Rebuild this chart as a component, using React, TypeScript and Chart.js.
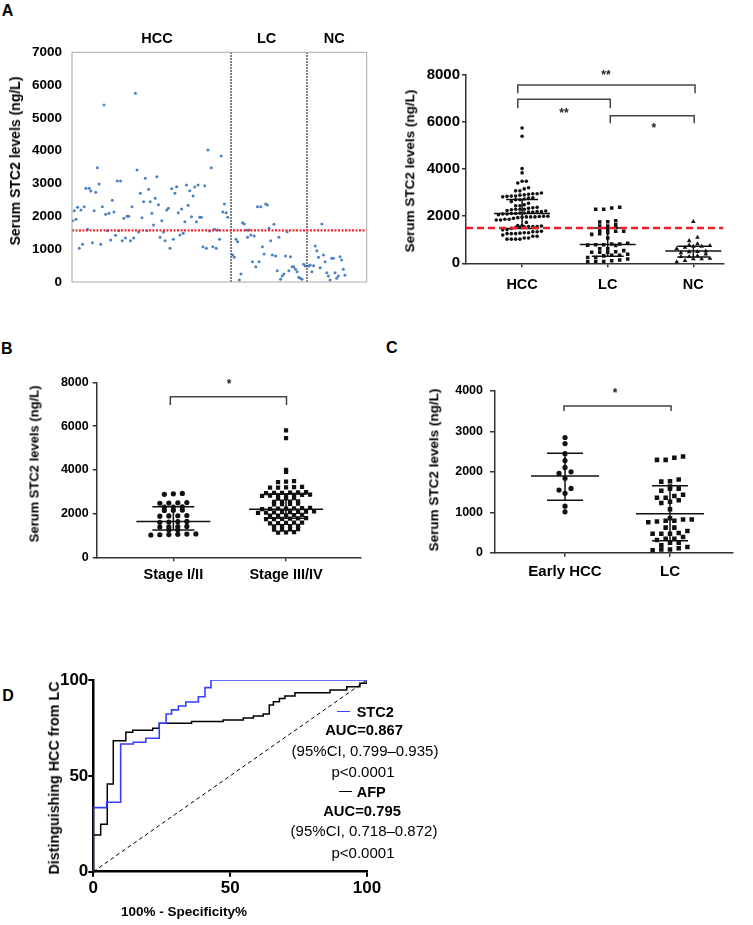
import React, { useEffect, useRef } from 'react';
import { Chart, registerables } from 'chart.js';

Chart.register(...registerables);

const FONT = '"Liberation Sans", Arial, Helvetica, sans-serif';
Chart.defaults.font.family = FONT;
Chart.defaults.color = '#000';

// ================= DATA =================
// Panel A – serum STC2 (ng/L) per sample
const groupLabelsA = ['HCC', 'LC', 'NC'];
const hccLevels = [
  1870, 2174, 1910, 2276, 1026, 2195, 1148, 2296, 2855, 1605,
  2855, 2774, 1199, 2174, 2733, 3485, 2987, 1148, 2296, 5395,
  2062, 1565, 2093, 1280, 2489, 2134, 1422, 3078, 1565, 3078,
  1260, 1940, 1341, 2001, 2001, 1260, 2296, 1341, 5750, 3414,
  1524, 2702, 1961, 2448, 3160, 1565, 2824, 2448, 2093, 1737,
  2550, 3210, 2357, 1361, 1870, 1524, 1260, 2195, 2245, 1026,
  2844, 1300, 2702, 2905, 2113, 1432, 2225, 1483, 1839, 2956,
  2337, 2784, 1991, 2621, 2895, 1839, 2956, 1971, 1971, 1077,
  2936, 1026, 4023, 1555, 3485, 1077, 1605, 1026, 1585, 1300,
  3840, 2134, 2377, 2113, 1971,
];
const lcLevels = [
  823, 752, 1300, 1229, 61, 244, 1809, 1768, 1585, 1361,
  1585, 1432, 620, 1402, 467, 2296, 620, 2296, 1077, 853,
  2377, 2347, 1636, 1260, 823, 1758, 792, 345, 1361, 81,
  183, 244, 792, 1534, 345, 772, 467, 467, 386, 315,
  142, 112, 81, 538, 488,
];
const ncLevels = [
  488, 518, 315, 498, 1097, 955, 752, 437, 1768, 823,
  620, 284, 183, 61, 721, 721, 284, 112, 183, 772,
  671, 386, 203,
];
const cutoffA1 = 1575;
const cutoffA2 = 1500;
const medianA = [2115, 795, 523];
const q1A = [1476, 298, 268];
const q3A = [2710, 1502, 723];
const sigA = ['**', '**', '*'];

// Panel B – by stage
const stageLabels = ['Stage I/II', 'Stage III/IV'];
const stage12Levels = [
  2920, 2900, 2880, 2500, 2490, 2480, 2470, 2310, 2300, 2290,
  2160, 2150, 2140, 1910, 1900, 1890, 1880, 1640, 1630, 1610,
  1600, 1410, 1400, 1390, 1380, 1260, 1250, 1070, 1060, 1050,
  1040, 1030, 1020,
];
const stage34Levels = [
  5800, 5450, 4000, 3900, 3480, 3460, 3440,
  3220, 3210, 3200, 3190, 3180,
  2980, 2970, 2960, 2950, 2940, 2930,
  2860, 2850, 2850, 2840, 2830, 2820, 2810,
  2700, 2690, 2680, 2560, 2550, 2540, 2530,
  2450, 2440, 2430, 2420,
  2260, 2250, 2240, 2230, 2220, 2210, 2200,
  2100, 2090, 2080, 2070, 2060, 2050, 2040, 2030,
  1940, 1930, 1920, 1910, 1900,
  1790, 1780, 1770, 1760, 1750, 1740,
  1590, 1580, 1570, 1560, 1550,
  1440, 1430, 1420, 1410,
  1290, 1280, 1270, 1260,
  1150, 1140, 1130,
];
const medianB = [1631, 2195];
const q1B = [1250, 1783];
const q3B = [2316, 2896];
const sigB = ['*'];

// Panel C – early HCC vs LC
const labelsC = ['Early HCC', 'LC'];
const earlyHccLevels = [2850, 2700, 2450, 2280, 2110, 2000, 1960, 1840, 1590, 1550, 1470, 1150, 1010];
const meanC = [1897, 965];
const sdLowC = [1295, 297];
const sdHighC = [2458, 1658];
const sigC = ['*'];

// Panel D – ROC (100% - specificity, sensitivity)
const stc2Fpr = [0, 0, 4.9, 10, 14.6, 19.2, 24.1, 26.6, 28.6, 31.1, 33.8, 38.4, 40.8, 43, 100];
const stc2Tpr = [0, 33.4, 36.2, 66.6, 67.5, 69.6, 77.4, 82.3, 84.4, 86.4, 88.5, 91.3, 96, 100, 100];
const afpFpr = [0, 0, 2.7, 5.1, 7.3, 11.9, 14.4, 21.7, 24.1, 35.9, 47.5, 54.8, 58.5, 62.1, 64.3, 65.8, 68, 70, 73.7, 86.5, 92.6, 97.4, 100];
const afpTpr = [0, 19.1, 24.7, 45.7, 68.3, 72.7, 73.8, 74.8, 77.4, 78.3, 79.1, 80.2, 81.2, 82.3, 87, 88.7, 90.4, 91.6, 93.4, 94.8, 96.5, 98.3, 100];
const diagonal = [0, 100];
const rocTicks = [0, 50, 100];

// ================= LAYOUT =================
type Box = { x: number; y: number; w: number; h: number };
type Area = { l: number; t: number; r: number; b: number };

const L_A1 = { box: { x: 20, y: 30, w: 360, h: 272 }, area: { l: 72, t: 52.3, r: 366.7, b: 282 }, xr: [-0.4, 178.2] };
const L_A2 = { box: { x: 395, y: 50, w: 350, h: 250 }, area: { l: 466, t: 75, r: 723.3, b: 263.3 }, xr: [0.345, 3.35] };
const L_B = { box: { x: 25, y: 355, w: 355, h: 240 }, area: { l: 96.7, t: 382.3, r: 361, b: 557.3 }, xr: [0.32, 2.665] };
const L_C = { box: { x: 420, y: 365, w: 330, h: 230 }, area: { l: 495, t: 391, r: 733, b: 552.7 }, xr: [0.333, 2.6] };
const L_D = { box: { x: 40, y: 655, w: 355, h: 250 }, area: { l: 93.3, t: 680, r: 367, b: 871.7 } };

const pxPer = (L: { area: Area; xr: number[] }) => (L.area.r - L.area.l) / (L.xr[1] - L.xr[0]);

function padding(box: Box, area: Area, xHidden = false) {
  return {
    left: 0,
    top: area.t - box.y,
    right: box.x + box.w - area.r,
    bottom: xHidden ? box.y + box.h - area.b : 0,
  };
}

// dot-plot layout: rows of close values spread sideways
function swarm(values: number[], center: number, tol: number, stepPx: number, pxPerUnit: number) {
  const order = values.map((_, i) => i).sort((a, b) => values[a] - values[b]);
  const rows: number[][] = [];
  let cur: number[] = [];
  let start = 0;
  for (const i of order) {
    if (cur.length && values[i] - start > tol) {
      rows.push(cur);
      cur = [];
    }
    if (!cur.length) start = values[i];
    cur.push(i);
  }
  if (cur.length) rows.push(cur);
  const pts: { x: number; y: number }[] = new Array(values.length);
  for (const row of rows) {
    const n = row.length;
    row.forEach((i, k) => {
      pts[i] = { x: center + ((k - (n - 1) / 2) * stepPx) / pxPerUnit, y: values[i] };
    });
  }
  return pts;
}

type Mark = any;

function marksPlugin(marks: Mark[]) {
  return {
    id: 'marks',
    afterDatasetsDraw(chart: any) {
      const { ctx, chartArea: a, scales } = chart;
      const X = (v: number) => scales.x.getPixelForValue(v);
      const Y = (v: number) => scales.y.getPixelForValue(v);
      const seg = (x1: number, y1: number, x2: number, y2: number) => {
        ctx.beginPath();
        ctx.moveTo(x1, y1);
        ctx.lineTo(x2, y2);
        ctx.stroke();
      };
      for (const m of marks) {
        ctx.save();
        ctx.setLineDash(m.dash || []);
        ctx.strokeStyle = m.color || '#000';
        ctx.fillStyle = m.color || '#000';
        ctx.lineWidth = m.width || 1;
        if (m.type === 'frame') {
          ctx.strokeRect(a.left, a.top, a.right - a.left, a.bottom - a.top);
        } else if (m.type === 'hline') {
          seg(a.left, Y(m.y), a.right, Y(m.y));
        } else if (m.type === 'vline') {
          seg(X(m.x), a.top, X(m.x), a.bottom);
        } else if (m.type === 'bracket') {
          ctx.beginPath();
          ctx.moveTo(X(m.x1), Y(m.y2));
          ctx.lineTo(X(m.x1), Y(m.y));
          ctx.lineTo(X(m.x2), Y(m.y));
          ctx.lineTo(X(m.x2), Y(m.y2));
          ctx.stroke();
        } else if (m.type === 'text') {
          ctx.font = `bold ${m.size}px ${FONT}`;
          ctx.textAlign = 'center';
          ctx.textBaseline = 'alphabetic';
          ctx.fillText(m.text, X(m.x), Y(m.y) + m.size * 0.58);
        } else if (m.type === 'bar') {
          const cx = X(m.x);
          seg(cx - m.wMid, Y(m.mid), cx + m.wMid, Y(m.mid));
          seg(cx - m.wQ, Y(m.lo), cx + m.wQ, Y(m.lo));
          seg(cx - m.wQ, Y(m.hi), cx + m.wQ, Y(m.hi));
          seg(cx, Y(m.lo), cx, Y(m.hi));
        }
        ctx.restore();
      }
    },
  };
}

function valueAxis(o: {
  min: number; max: number; step: number; size: number; width: number;
  tick: number; pad: number; border: boolean; color?: string; lw?: number;
}) {
  return {
    type: 'linear',
    min: o.min,
    max: o.max,
    ticks: {
      stepSize: o.step,
      padding: o.pad,
      color: '#000',
      font: { size: o.size, weight: 'bold', family: FONT },
      callback: (v: any) => String(v),
    },
    grid: {
      display: o.tick > 0,
      drawOnChartArea: false,
      drawTicks: o.tick > 0,
      tickLength: o.tick,
      color: o.color || '#333',
      lineWidth: o.lw || 1.5,
    },
    border: { display: o.border, color: o.color || '#333', width: o.lw || 1.5 },
    afterFit: (s: any) => {
      s.width = o.width;
    },
  };
}

function categoryAxis(o: {
  labels: string[]; xr: number[]; size: number; height: number; tick: number; pad: number; color?: string; lw?: number;
}) {
  return {
    type: 'linear',
    min: o.xr[0],
    max: o.xr[1],
    afterBuildTicks: (s: any) => {
      s.ticks = o.labels.map((_, i) => ({ value: i + 1 }));
    },
    ticks: {
      autoSkip: false,
      maxRotation: 0,
      padding: o.pad,
      color: '#000',
      font: { size: o.size, weight: 'bold', family: FONT },
      callback: (v: any) => o.labels[Math.round(v) - 1] ?? '',
    },
    grid: {
      display: true,
      drawOnChartArea: false,
      drawTicks: true,
      tickLength: o.tick,
      color: o.color || '#333',
      lineWidth: o.lw || 1.5,
    },
    border: { display: true, color: o.color || '#333', width: o.lw || 1.5 },
    afterFit: (s: any) => {
      s.height = o.height;
    },
  };
}

const baseOptions = {
  responsive: false,
  maintainAspectRatio: false,
  animation: false,
  events: [],
  plugins: { legend: { display: false }, tooltip: { enabled: false } },
};

// ================= CHART CONFIGS =================
function configA1() {
  const L = L_A1;
  const sep1 = hccLevels.length + 1;
  const sep2 = hccLevels.length + lcLevels.length + 2;
  const pts = [
    ...hccLevels.map((y, i) => ({ x: i, y })),
    ...lcLevels.map((y, i) => ({ x: hccLevels.length + 2 + i, y })),
    ...ncLevels.map((y, i) => ({ x: hccLevels.length + lcLevels.length + 3 + i, y })),
  ];
  const marks: Mark[] = [
    { type: 'vline', x: sep1, color: '#222', width: 1.5, dash: [1.5, 1.5] },
    { type: 'vline', x: sep2, color: '#222', width: 1.5, dash: [1.5, 1.5] },
    { type: 'hline', y: cutoffA1, color: '#f0282d', width: 2.2, dash: [2, 1.5] },
    { type: 'frame', color: '#a8a8a8', width: 1 },
  ];
  return {
    type: 'scatter',
    data: {
      datasets: [
        {
          label: 'STC2',
          data: pts,
          pointStyle: 'circle',
          pointRadius: 1.5,
          pointBorderWidth: 0,
          pointBackgroundColor: '#4a82c4',
          backgroundColor: '#4a82c4',
        },
      ],
    },
    options: {
      ...baseOptions,
      layout: { padding: padding(L.box, L.area, true) },
      scales: {
        x: { type: 'linear', display: false, min: L.xr[0], max: L.xr[1] },
        y: valueAxis({ min: 0, max: 7000, step: 1000, size: 13.5, width: L.area.l - L.box.x, tick: 0, pad: 10, border: false }),
      },
    },
    plugins: [marksPlugin(marks)],
  };
}

function configA2() {
  const L = L_A2;
  const px = pxPer(L);
  const marks: Mark[] = [
    ...medianA.map((m, i) => ({ type: 'bar', x: i + 1, mid: m, lo: q1A[i], hi: q3A[i], wMid: 28, wQ: 16, color: '#111', width: 1.5 })),
    { type: 'bracket', x1: 0.95, x2: 3.02, y: 7575, y2: 7220, color: '#444', width: 1.5 },
    { type: 'bracket', x1: 0.95, x2: 2.03, y: 6965, y2: 6585, color: '#444', width: 1.5 },
    { type: 'bracket', x1: 2.03, x2: 3.01, y: 6270, y2: 5946, color: '#444', width: 1.5 },
    { type: 'text', x: 1.98, y: 8140, text: sigA[0], size: 12, color: '#222' },
    { type: 'text', x: 1.49, y: 6513, text: sigA[1], size: 12, color: '#222' },
    { type: 'text', x: 2.54, y: 5876, text: sigA[2], size: 12, color: '#222' },
    { type: 'hline', y: cutoffA2, color: '#ee2229', width: 2.5, dash: [7, 4] },
  ];
  const pt = (color: string) => ({ pointBorderWidth: 0, pointBackgroundColor: color, backgroundColor: color });
  return {
    type: 'scatter',
    data: {
      datasets: [
        { label: groupLabelsA[0], data: swarm(hccLevels, 1, 170, 4.3, px), pointStyle: 'circle', pointRadius: 1.8, ...pt('#111') },
        { label: groupLabelsA[1], data: swarm(lcLevels, 2, 150, 8, px), pointStyle: 'rect', pointRadius: 2.5, ...pt('#111') },
        { label: groupLabelsA[2], data: swarm(ncLevels, 3, 150, 8.3, px), pointStyle: 'triangle', pointRadius: 2.7, ...pt('#111') },
      ],
    },
    options: {
      ...baseOptions,
      layout: { padding: padding(L.box, L.area) },
      scales: {
        x: categoryAxis({ labels: groupLabelsA, xr: L.xr, size: 14.5, height: L.box.y + L.box.h - L.area.b, tick: 4, pad: 9 }),
        y: valueAxis({ min: 0, max: 8000, step: 2000, size: 15, width: L.area.l - L.box.x, tick: 4, pad: 2, border: true }),
      },
    },
    plugins: [marksPlugin(marks)],
  };
}

function configB() {
  const L = L_B;
  const px = pxPer(L);
  const marks: Mark[] = [
    ...medianB.map((m, i) => ({ type: 'bar', x: i + 1, mid: m, lo: q1B[i], hi: q3B[i], wMid: 37, wQ: 21, color: '#111', width: 1.5 })),
    { type: 'bracket', x1: 0.973, x2: 2.004, y: 7342, y2: 6962, color: '#444', width: 1.5 },
    { type: 'text', x: 1.495, y: 8059, text: sigB[0], size: 12, color: '#222' },
  ];
  const pt = (color: string) => ({ pointBorderWidth: 0, pointBackgroundColor: color, backgroundColor: color });
  return {
    type: 'scatter',
    data: {
      datasets: [
        { label: stageLabels[0], data: swarm(stage12Levels, 1, 70, 9, px), pointStyle: 'circle', pointRadius: 2.6, ...pt('#111') },
        { label: stageLabels[1], data: swarm(stage34Levels, 2, 70, 8, px), pointStyle: 'rect', pointRadius: 3, ...pt('#111') },
      ],
    },
    options: {
      ...baseOptions,
      layout: { padding: padding(L.box, L.area) },
      scales: {
        x: categoryAxis({ labels: stageLabels, xr: L.xr, size: 14.5, height: L.box.y + L.box.h - L.area.b, tick: 4, pad: 5 }),
        y: valueAxis({ min: 0, max: 8000, step: 2000, size: 12.5, width: L.area.l - L.box.x, tick: 4, pad: 4, border: true }),
      },
    },
    plugins: [marksPlugin(marks)],
  };
}

function configC() {
  const L = L_C;
  const px = pxPer(L);
  const marks: Mark[] = [
    ...meanC.map((m, i) => ({ type: 'bar', x: i + 1, mid: m, lo: sdLowC[i], hi: sdHighC[i], wMid: 34, wQ: 18, color: '#111', width: 1.5 })),
    { type: 'bracket', x1: 0.99, x2: 2.01, y: 3629, y2: 3505, color: '#444', width: 1.5 },
    { type: 'text', x: 1.476, y: 4025, text: sigC[0], size: 12, color: '#222' },
  ];
  const pt = (color: string) => ({ pointBorderWidth: 0, pointBackgroundColor: color, backgroundColor: color });
  return {
    type: 'scatter',
    data: {
      datasets: [
        { label: labelsC[0], data: swarm(earlyHccLevels, 1, 60, 12, px), pointStyle: 'circle', pointRadius: 2.6, ...pt('#111') },
        { label: labelsC[1], data: swarm(lcLevels, 2, 100, 8.7, px), pointStyle: 'rect', pointRadius: 3.2, ...pt('#111') },
      ],
    },
    options: {
      ...baseOptions,
      layout: { padding: padding(L.box, L.area) },
      scales: {
        x: categoryAxis({ labels: labelsC, xr: L.xr, size: 15, height: L.box.y + L.box.h - L.area.b, tick: 4, pad: 6.6 }),
        y: valueAxis({ min: 0, max: 4000, step: 1000, size: 12.5, width: L.area.l - L.box.x, tick: 5, pad: 7, border: true }),
      },
    },
    plugins: [marksPlugin(marks)],
  };
}

function configD() {
  const L = L_D;
  const tickSet = (s: any) => {
    s.ticks = rocTicks.map((v) => ({ value: v }));
  };
  const axisCommon = {
    type: 'linear',
    min: 0,
    max: 100,
    afterBuildTicks: tickSet,
    grid: { display: true, drawOnChartArea: false, drawTicks: true, tickLength: 5, color: '#000', lineWidth: 2 },
    border: { display: true, color: '#000', width: 2.5 },
  };
  return {
    type: 'scatter',
    data: {
      datasets: [
        {
          label: 'STC2',
          data: stc2Fpr.map((x, i) => ({ x, y: stc2Tpr[i] })),
          showLine: true,
          stepped: 'before',
          borderColor: '#3340ff',
          borderWidth: 1.6,
          pointRadius: 0,
          fill: false,
        },
        {
          label: 'AFP',
          data: afpFpr.map((x, i) => ({ x, y: afpTpr[i] })),
          showLine: true,
          stepped: 'before',
          borderColor: '#000',
          borderWidth: 1.5,
          pointRadius: 0,
          fill: false,
        },
        {
          label: 'Reference',
          data: diagonal.map((v) => ({ x: v, y: v })),
          showLine: true,
          borderColor: '#000',
          borderWidth: 1,
          borderDash: [4, 3],
          pointRadius: 0,
          fill: false,
        },
      ],
    },
    options: {
      ...baseOptions,
      layout: { padding: padding(L.box, L.area) },
      scales: {
        x: {
          ...axisCommon,
          ticks: { autoSkip: false, maxRotation: 0, padding: 1.4, color: '#000', font: { size: 17, weight: 'bold', family: FONT }, callback: (v: any) => String(v) },
          afterFit: (s: any) => {
            s.height = L.box.y + L.box.h - L.area.b;
          },
        },
        y: {
          ...axisCommon,
          ticks: { autoSkip: false, padding: 0, color: '#000', font: { size: 17, weight: 'bold', family: FONT }, callback: (v: any) => String(v) },
          afterFit: (s: any) => {
            s.width = L.area.l - L.box.x;
          },
        },
      },
    },
  };
}

// ================= COMPONENTS =================
function ChartBox({ box, make }: { box: Box; make: () => any }) {
  const ref = useRef<HTMLCanvasElement | null>(null);
  useEffect(() => {
    const chart = new Chart(ref.current as HTMLCanvasElement, make());
    return () => chart.destroy();
  }, []);
  return (
    <canvas
      ref={ref}
      width={box.w}
      height={box.h}
      style={{ position: 'absolute', left: box.x, top: box.y, width: box.w, height: box.h }}
    />
  );
}

function Txt(props: {
  x: number; y: number; size: number; children: React.ReactNode; bold?: boolean; rotate?: boolean; left?: boolean; color?: string;
}) {
  const { x, y, size, children, bold = true, rotate = false, left = false, color = '#000' } = props;
  const tf = (left ? 'translate(0,-50%)' : 'translate(-50%,-50%)') + (rotate ? ' rotate(-90deg)' : '');
  return (
    <div
      style={{
        position: 'absolute',
        left: x,
        top: y,
        transform: tf,
        fontFamily: FONT,
        fontSize: size,
        fontWeight: bold ? 700 : 400,
        lineHeight: 1,
        whiteSpace: 'nowrap',
        color,
      }}
    >
      {children}
    </div>
  );
}

function Dash({ x1, x2, y, color }: { x1: number; x2: number; y: number; color: string }) {
  return <div style={{ position: 'absolute', left: x1, top: y - 0.75, width: x2 - x1, height: 1.5, background: color }} />;
}

export default function App() {
  return (
    <div style={{ position: 'absolute', left: 0, top: 0, width: 753, height: 925, background: '#fff', overflow: 'hidden' }}>
      <ChartBox box={L_A1.box} make={configA1} />
      <ChartBox box={L_A2.box} make={configA2} />
      <ChartBox box={L_B.box} make={configB} />
      <ChartBox box={L_C.box} make={configC} />
      <ChartBox box={L_D.box} make={configD} />

      {/* panel letters */}
      <Txt x={7.5} y={10.5} size={16}>A</Txt>
      <Txt x={6.7} y={349} size={16}>B</Txt>
      <Txt x={391.7} y={347.5} size={16}>C</Txt>
      <Txt x={8} y={696} size={16}>D</Txt>

      {/* panel A left group labels */}
      <Txt x={157} y={38} size={14.5}>{groupLabelsA[0]}</Txt>
      <Txt x={266.7} y={38} size={14.5}>{groupLabelsA[1]}</Txt>
      <Txt x={334.3} y={38} size={14.5}>{groupLabelsA[2]}</Txt>

      {/* axis titles */}
      <Txt x={15} y={161} size={14} rotate>Serum STC2 levels (ng/L)</Txt>
      <Txt x={410} y={171} size={13.5} rotate>Serum STC2 levels (ng/L)</Txt>
      <Txt x={34} y={463.5} size={13} rotate>Serum STC2 levels (ng/L)</Txt>
      <Txt x={434} y={470} size={13.5} rotate>Serum STC2 levels (ng/L)</Txt>
      <Txt x={54} y={778} size={14.3} rotate>Distinguishing HCC from LC</Txt>
      <Txt x={184} y={912} size={13.5}>100% - Specificity%</Txt>

      {/* ROC legend */}
      <Dash x1={337} x2={350} y={711.7} color="#3340ff" />
      <Txt x={356.7} y={711.7} size={14.5} left>STC2</Txt>
      <Txt x={364} y={730} size={14.8}>AUC=0.867</Txt>
      <Txt x={365} y={750} size={15} bold={false}>(95%CI, 0.799–0.935)</Txt>
      <Txt x={363} y={770.7} size={15} bold={false}>p&lt;0.0001</Txt>
      <Dash x1={339} x2={352} y={791.7} color="#000" />
      <Txt x={356.7} y={791.7} size={14.5} left>AFP</Txt>
      <Txt x={362} y={810.7} size={14.8}>AUC=0.795</Txt>
      <Txt x={364} y={830} size={15} bold={false}>(95%CI, 0.718–0.872)</Txt>
      <Txt x={363} y={851.7} size={15} bold={false}>p&lt;0.0001</Txt>
    </div>
  );
}
